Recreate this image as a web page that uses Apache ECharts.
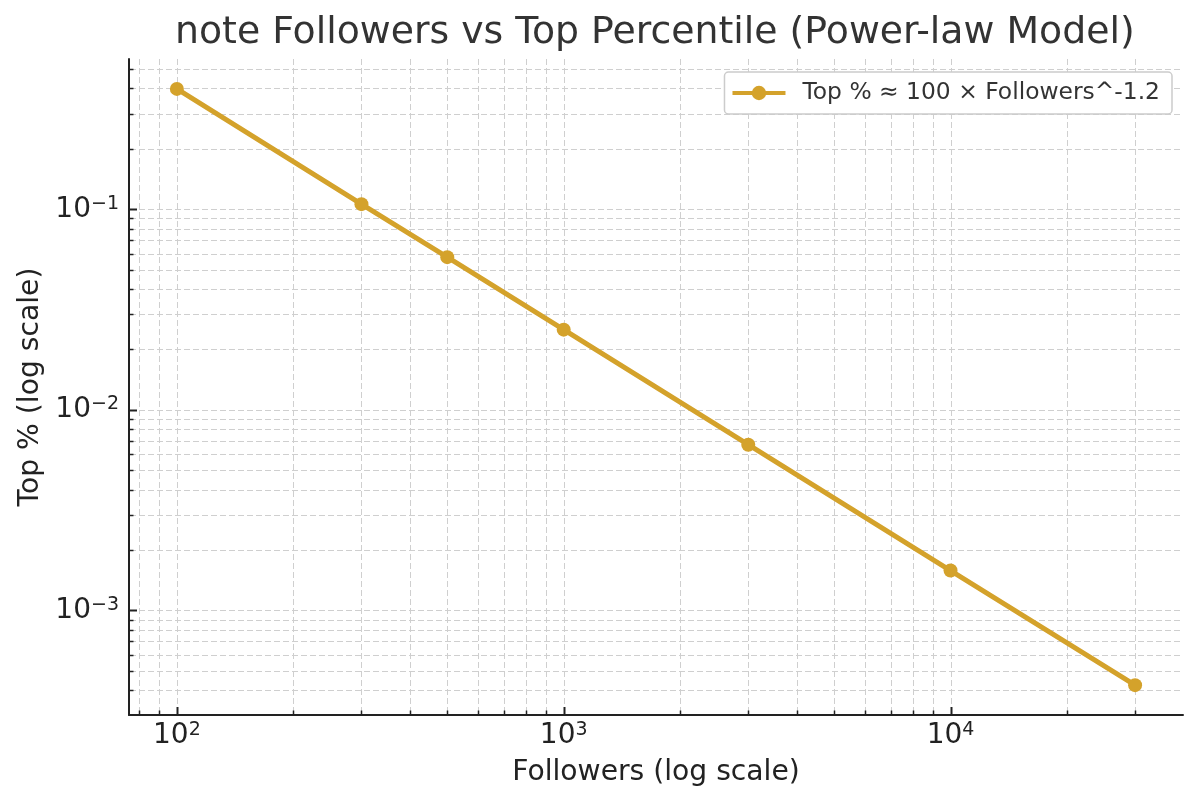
<!DOCTYPE html>
<html>
<head>
    <meta charset="utf-8">
    <script src="https://cdn.jsdelivr.net/npm/echarts@6/dist/echarts.min.js"></script>
    <style>
        html, body { margin: 0; padding: 0; background: #fff; }
    </style>
</head>
<body>
<div id="main" style="width: 1200px;height:807px;"></div>
<script type="text/javascript">
    // data
    var followers = [100, 300, 500, 1000, 3000, 10000, 30000];
    var topPercent = [0.398, 0.106, 0.0577, 0.0251, 0.0067, 0.00158, 0.000424];

    // axis ranges and tick values
    var xMin = 75.2, xMax = 39900;
    var yMin = 0.000301, yMax = 0.561;
    var xMajorTicks = [100, 1000, 10000];
    var xMinorTicks = [80, 90, 200, 300, 400, 500, 600, 700, 800, 900,
        2000, 3000, 4000, 5000, 6000, 7000, 8000, 9000, 20000, 30000];
    var yMajorTicks = [0.001, 0.01, 0.1];
    var yMinorTicks = [0.0004, 0.0005, 0.0006, 0.0007, 0.0008, 0.0009,
        0.002, 0.003, 0.004, 0.005, 0.006, 0.007, 0.008, 0.009,
        0.02, 0.03, 0.04, 0.05, 0.06, 0.07, 0.08, 0.09,
        0.2, 0.3, 0.4, 0.5];

    var seriesName = 'Top % \u2248 100 \u00d7 Followers^-1.2';
    var lineColor = '#d4a22b';
    var gridColor = '#cfcfcf';
    var inkColor = '#222';

    var myChart = echarts.init(document.getElementById('main'));

    function powLabel(value) {
        var e = Math.log10(value);
        var r = Math.round(e);
        if (Math.abs(e - r) > 1e-6) return '';
        var s = r < 0 ? '\u2212' + (-r) : '' + r;
        return '{b|10}{s|' + s + '}';
    }

    var labelRich = {
        b: { fontSize: 28, lineHeight: 30, color: inkColor, fontFamily: 'DejaVu Sans' },
        s: { fontSize: 19, lineHeight: 30, verticalAlign: 'top', color: inkColor, fontFamily: 'DejaVu Sans' }
    };

    // grid lines + tick marks, placed through the axes' own log scales
    var xGridData = xMajorTicks.map(function (v) { return [v, 0.01, 1]; })
        .concat(xMinorTicks.map(function (v) { return [v, 0.01, 0]; }));
    var yGridData = yMajorTicks.map(function (v) { return [1000, v, 1]; })
        .concat(yMinorTicks.map(function (v) { return [1000, v, 0]; }));

    function renderXGrid(params, api) {
        var cs = params.coordSys;
        var p = api.coord([api.value(0), api.value(1)]);
        var major = api.value(2) === 1;
        var x = Math.round(p[0]) + 0.5;
        var bottom = cs.y + cs.height;
        return {
            type: 'group',
            children: [
                { type: 'line', shape: { x1: x, y1: cs.y, x2: x, y2: bottom - 1 },
                  style: { stroke: gridColor, lineWidth: 1, lineDash: [6, 3] } },
                { type: 'line', shape: { x1: x, y1: bottom, x2: x, y2: bottom - (major ? 8 : 4.5) },
                  style: { stroke: inkColor, lineWidth: major ? 2 : 1.5 } }
            ]
        };
    }

    function renderYGrid(params, api) {
        var cs = params.coordSys;
        var p = api.coord([api.value(0), api.value(1)]);
        var major = api.value(2) === 1;
        var y = Math.round(p[1]) + 0.5;
        return {
            type: 'group',
            children: [
                { type: 'line', shape: { x1: cs.x + 1, y1: y, x2: cs.x + cs.width, y2: y },
                  style: { stroke: gridColor, lineWidth: 1, lineDash: [6, 3] } },
                { type: 'line', shape: { x1: cs.x, y1: y, x2: cs.x + (major ? 8 : 4.5), y2: y },
                  style: { stroke: inkColor, lineWidth: major ? 2 : 1.5 } }
            ]
        };
    }

    option = {
        backgroundColor: '#fff',
        animation: false,
        textStyle: { fontFamily: 'DejaVu Sans' },
        title: {
            text: 'note Followers vs Top Percentile (Power-law Model)',
            left: 175,
            top: 14,
            padding: 0,
            textStyle: { fontSize: 37.8, fontWeight: 'normal', color: '#333', fontFamily: 'DejaVu Sans' }
        },
        legend: {
            data: [seriesName],
            right: 28,
            top: 72,
            padding: [9.5, 12, 9.5, 6],
            itemWidth: 53,
            itemHeight: 18,
            backgroundColor: '#fff',
            borderColor: '#cccccc',
            borderWidth: 1.5,
            borderRadius: 4,
            lineStyle: { width: 4 },
            textStyle: { fontSize: 23.4, color: '#333', fontFamily: 'DejaVu Sans', padding: [0, 0, 0, 12] }
        },
        grid: {
            left: 129,
            right: 17,
            top: 59,
            bottom: 92,
            outerBoundsMode: 'none'
        },
        xAxis: {
            type: 'log',
            logBase: 10,
            min: xMin,
            max: xMax,
            z: 3,
            name: 'Followers (log scale)',
            nameLocation: 'middle',
            nameGap: 44,
            nameTextStyle: { fontSize: 28.2, color: inkColor, fontFamily: 'DejaVu Sans' },
            axisLine: { show: true, lineStyle: { color: inkColor, width: 2 } },
            axisTick: { show: false },
            splitLine: { show: false },
            minorTick: { show: false },
            axisLabel: { margin: 6, formatter: powLabel, rich: labelRich }
        },
        yAxis: {
            type: 'log',
            logBase: 10,
            min: yMin,
            max: yMax,
            z: 3,
            name: 'Top % (log scale)',
            nameLocation: 'middle',
            nameGap: 84,
            nameTextStyle: { fontSize: 28.2, color: inkColor, fontFamily: 'DejaVu Sans' },
            axisLine: { show: true, lineStyle: { color: inkColor, width: 2 } },
            axisTick: { show: false },
            splitLine: { show: false },
            minorTick: { show: false },
            axisLabel: { margin: 10, formatter: powLabel, rich: labelRich }
        },
        series: [
            {
                type: 'custom',
                name: 'xgrid',
                z: 1,
                silent: true,
                clip: false,
                encode: { x: 0, y: 1 },
                renderItem: renderXGrid,
                data: xGridData
            },
            {
                type: 'custom',
                name: 'ygrid',
                z: 1,
                silent: true,
                clip: false,
                encode: { x: 0, y: 1 },
                renderItem: renderYGrid,
                data: yGridData
            },
            {
                name: seriesName,
                type: 'line',
                z: 5,
                symbol: 'circle',
                symbolSize: 14,
                itemStyle: { color: lineColor },
                lineStyle: { color: lineColor, width: 5 },
                data: followers.map(function (f, i) { return [f, topPercent[i]]; })
            }
        ]
    };
    myChart.setOption(option);
</script>
</body>
</html>
